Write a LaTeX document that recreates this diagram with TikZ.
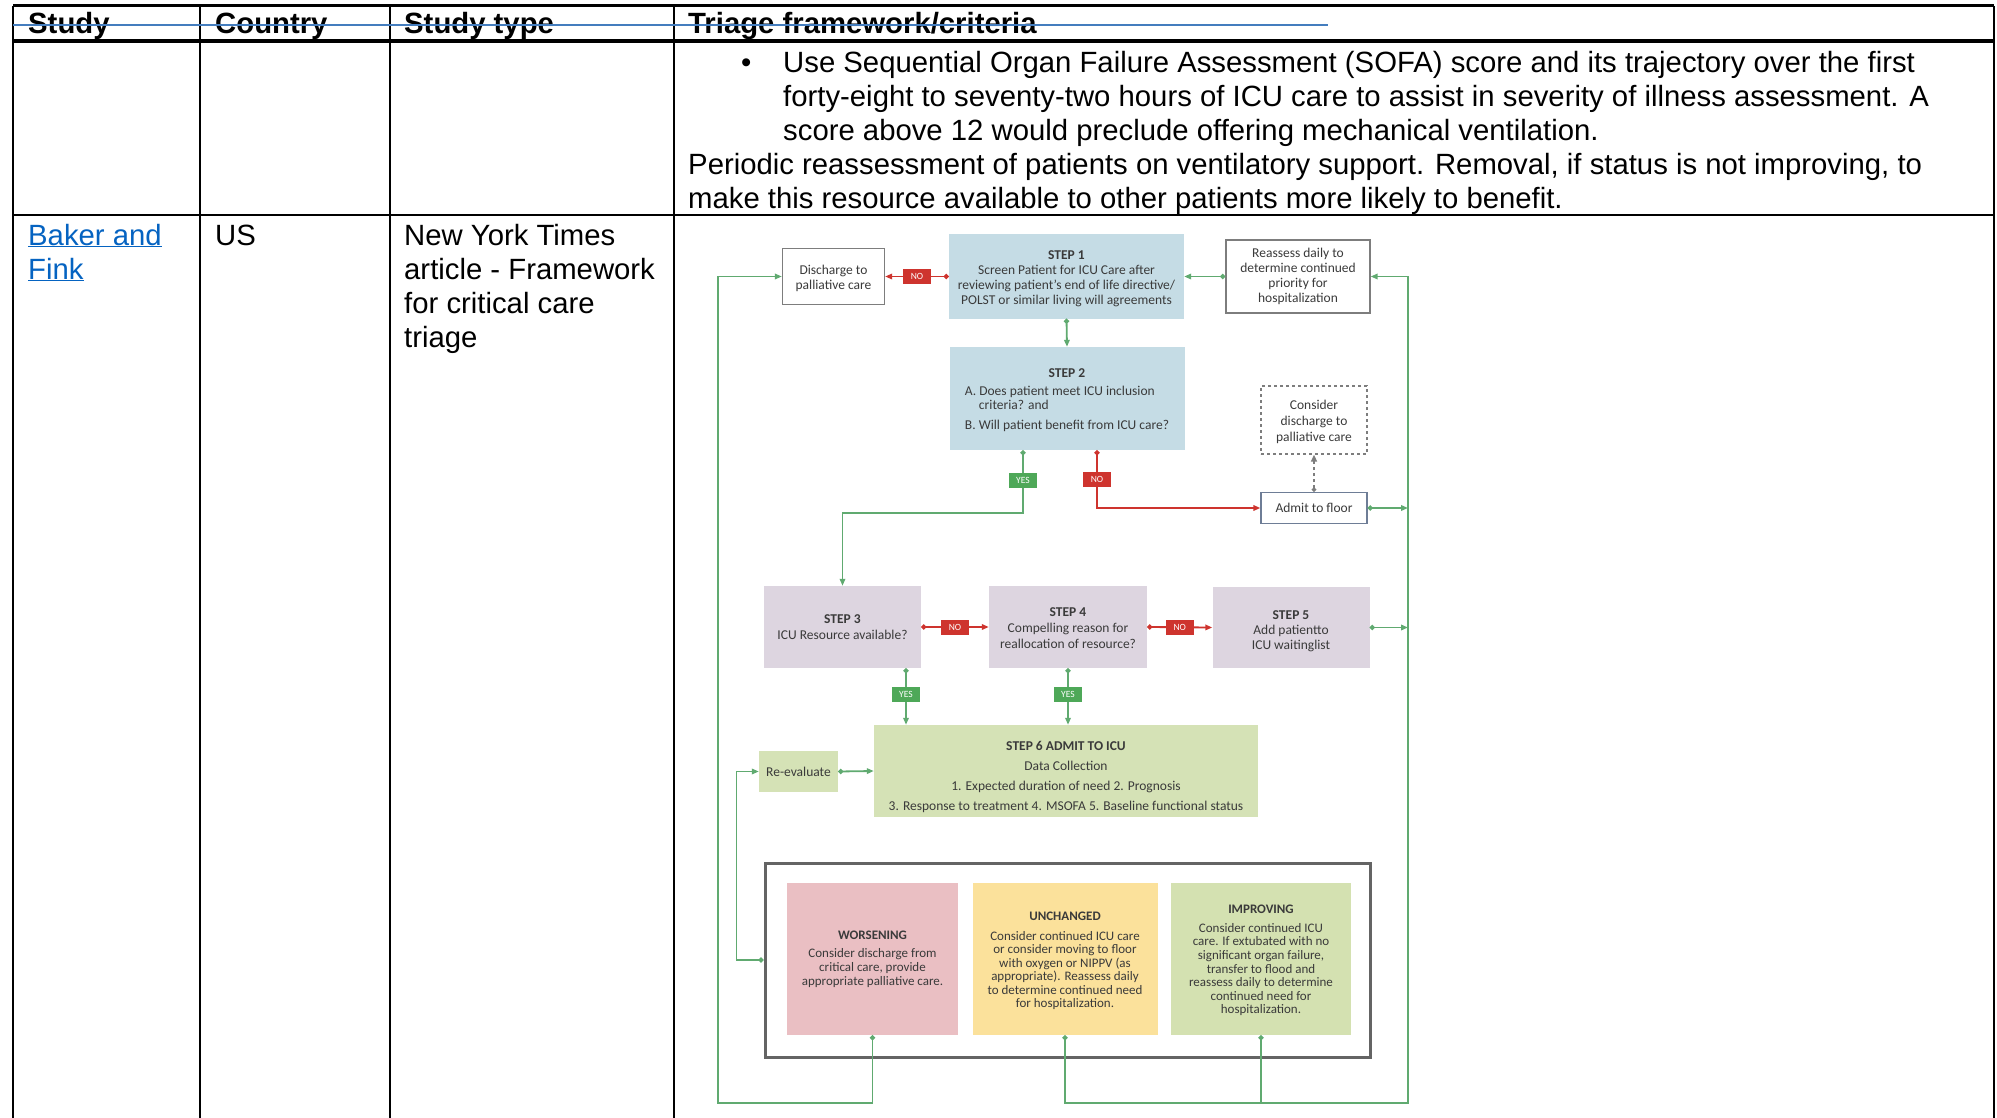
\documentclass[tikz,border=0pt]{standalone}
\usepackage{fontspec}
\setmainfont{Liberation Sans}
\newfontfamily\flowfont{Carlito}
\usetikzlibrary{arrows.meta,positioning,calc}

\definecolor{linkblue}{RGB}{5,99,193}
\definecolor{ruleblue}{RGB}{68,125,190}
\definecolor{stepblue}{RGB}{197,220,229}
\definecolor{steplilac}{RGB}{221,213,224}
\definecolor{stepgreen}{RGB}{213,226,182}
\definecolor{worsepink}{RGB}{234,191,195}
\definecolor{sameyellow}{RGB}{251,225,155}
\definecolor{bettergreen}{RGB}{212,225,177}
\definecolor{flowgreen}{RGB}{96,170,112}
\definecolor{yesgreen}{RGB}{78,168,88}
\definecolor{nored}{RGB}{206,52,46}
\definecolor{flowtext}{RGB}{58,58,58}
\definecolor{boxgray}{RGB}{125,125,125}

\begin{document}
\begin{tikzpicture}[x=1pt,y=-1pt,
  cell/.style={anchor=base west, inner sep=0pt, font=\fontsize{29.3}{33.8}\selectfont},
  head/.style={cell, font=\fontsize{29.3}{33.8}\selectfont\bfseries},
  flow/.style={inner sep=0pt, align=center, text=flowtext, font=\flowfont\fontsize{13.5}{14.5}\selectfont},
  stepbox/.style={flow, minimum width=#1},
  gline/.style={draw=flowgreen, line width=1.8pt, arrows={Circle[length=5pt]-Triangle[length=7pt,width=5.5pt]}},
  gdot/.style={draw=flowgreen, line width=1.8pt, arrows={Circle[length=5pt]-}},
  rline/.style={draw=nored, line width=1.8pt, arrows={Circle[length=5pt]-Triangle[length=7pt,width=5.5pt]}},
  dline/.style={draw=boxgray, line width=1.5pt, dashed, arrows={Circle[length=4.5pt]-Triangle[length=7pt,width=6pt]}},
  yeslbl/.style={fill=yesgreen, text=white, inner sep=0pt, minimum width=28pt, minimum height=15pt, font=\flowfont\fontsize{9.5}{10}\selectfont},
  nolbl/.style={yeslbl, fill=nored}]
  \useasboundingbox (0,0) rectangle (1997,1118);

  % table rules
  \draw[line width=3pt] (13,6) -- (1994,6);
  \draw[line width=3.2pt] (13,41) -- (1994,41);
  \draw[line width=2.8pt] (13,215) -- (1994,215);
  \draw[line width=2.6pt] (13,6) -- (13,1118);
  \draw[line width=2.6pt] (200,6) -- (200,1118);
  \draw[line width=2.6pt] (390,6) -- (390,1118);
  \draw[line width=2.6pt] (674,6) -- (674,1118);
  \draw[line width=2.6pt] (1994,6) -- (1994,1118);

  \node (h1) [head] at (28,34) {Study};
  \node (h2) [head] at (215,34) {Country};
  \node (h3) [head] at (404,34) {Study type};
  \node (h4) [head] at (688,34) {Triage framework/criteria};
  \draw[ruleblue, line width=1.8pt] (13,25) -- (1328,25);

  \node (bul) [cell] at (741,72.5) {•};
  \node (c1) [cell] at (783,72.5) {Use Sequential Organ Failure Assessment (SOFA) score and its trajectory over the first};
  \node (c2) [cell] at (783,106.5) {forty-eight to seventy-two hours of ICU care to assist in severity of illness assessment. A};
  \node (c3) [cell] at (783,140.5) {score above 12 would preclude offering mechanical ventilation.};
  \node (c4) [cell] at (688,174.5) {Periodic reassessment of patients on ventilatory support. Removal, if status is not improving, to};
  \node (c5) [cell] at (688,208) {make this resource available to other patients more likely to benefit.};

  \node (bk1) [cell, text=linkblue] at (28,245) {\underline{Baker and}};
  \node (bk2) [cell, text=linkblue] at (28,279) {\underline{Fink}};
  \node (us) [cell] at (215,245) {US};
  \node (ty1) [cell] at (404,245) {New York Times};
  \node (ty2) [cell] at (404,279) {article - Framework};
  \node (ty3) [cell] at (404,313) {for critical care};
  \node (ty4) [cell] at (404,347) {triage};

  % flowchart
  \node (s1) [stepbox=235pt, minimum height=84pt, fill=stepblue, font=\flowfont\fontsize{13.5}{14.8}\selectfont] at (1066.5,276.5)
    {\rule{0pt}{13.7pt}\textbf{STEP 1}\\Screen Patient for ICU Care after\\reviewing patient’s end of life directive/\\POLST or similar living will agreements};
  \node (dis) [stepbox=102pt, minimum height=56pt, draw=boxgray, line width=1.3pt, fill=white] at (833.5,276.5)
    {\rule{0pt}{13.5pt}Discharge to\\palliative care};
  \node (re) [stepbox=144pt, minimum height=73pt, draw=boxgray, line width=1.3pt, fill=white, font=\flowfont\fontsize{13.5}{15}\selectfont] at (1298,276.5)
    {Reassess daily to\\determine continued\\priority for\\hospitalization};
  \node (s2) [stepbox=235pt, minimum height=103pt, fill=stepblue] at (1067,398.5)
    {\begin{tabular}{@{}l@{}}\multicolumn{1}{@{}c@{}}{\rule{0pt}{14.2pt}\textbf{STEP 2}}\\[3pt]
     A. Does patient meet ICU inclusion\\\hspace*{14pt}criteria? and\\[5pt]
     B. Will patient benefit from ICU care?\end{tabular}};
  \node (cd) [stepbox=106pt, minimum height=68pt, draw=boxgray, line width=1.3pt, dashed, font=\flowfont\fontsize{13.5}{16}\selectfont] at (1314,420)
    {\rule{0pt}{12.5pt}Consider\\discharge to\\palliative care};
  \node (fl) [stepbox=106pt, minimum height=31pt, draw={rgb,255:red,110;green,125;blue,150}, line width=1.3pt, fill=white] at (1314,508)
    {Admit to floor};
  \node (s3) [stepbox=157pt, minimum height=82pt, fill=steplilac, font=\flowfont\fontsize{13.5}{16.5}\selectfont] at (842.5,627)
    {\textbf{STEP 3}\\ICU Resource available?};
  \node (s4) [stepbox=158pt, minimum height=82pt, fill=steplilac, font=\flowfont\fontsize{13.5}{16}\selectfont] at (1068,627)
    {\rule{0pt}{10.7pt}\textbf{STEP 4}\\Compelling reason for\\reallocation of resource?};
  \node (s5) [stepbox=157pt, minimum height=81pt, fill=steplilac, font=\flowfont\fontsize{13.5}{15.3}\selectfont] at (1291,627.5)
    {\rule{0pt}{16.7pt}\textbf{STEP 5}\\Add patientto\\ICU waitinglist};
  \node (s6) [stepbox=384pt, minimum height=92pt, fill=stepgreen, font=\flowfont\fontsize{13.5}{20}\selectfont] at (1066,771)
    {\rule{0pt}{20.7pt}\textbf{STEP 6 ADMIT TO ICU}\\Data Collection\\1. Expected duration of need 2. Prognosis\\3. Response to treatment 4. MSOFA 5. Baseline functional status};
  \node (rv) [stepbox=79pt, minimum height=41pt, fill=stepgreen] at (798.5,771.5) {Re-evaluate};

  \node (ob) [minimum width=605pt, minimum height=194pt, draw={rgb,255:red,100;green,100;blue,100}, line width=3pt, inner sep=0pt] at (1067.5,960) {};
  \node (wo) [stepbox=171pt, minimum height=152pt, fill=worsepink, font=\flowfont\fontsize{13}{13.8}\selectfont] at (872.5,959)
    {\textbf{WORSENING}\\[5pt]Consider discharge from\\critical care, provide\\appropriate palliative care.};
  \node (un) [stepbox=185pt, minimum height=152pt, fill=sameyellow, font=\flowfont\fontsize{13}{13.4}\selectfont] at (1065,959)
    {\rule{0pt}{12pt}\textbf{UNCHANGED}\\[6.5pt]Consider continued ICU care\\or consider moving to floor\\with oxygen or NIPPV (as\\appropriate). Reassess daily\\to determine continued need\\for hospitalization.};
  \node (im) [stepbox=180pt, minimum height=152pt, fill=bettergreen, font=\flowfont\fontsize{13}{13.6}\selectfont] at (1261,959)
    {\rule{0pt}{11pt}\textbf{IMPROVING}\\[5.5pt]Consider continued ICU\\care. If extubated with no\\significant organ failure,\\transfer to flood and\\reassess daily to determine\\continued need for\\hospitalization.};

  \coordinate (rb) at (1408,1103);
  \coordinate (lb) at (718,1103);

  \draw[rline] (s1.west) -- node[nolbl] {NO} (dis.east);
  \draw[gline] (re.west) -- (s1.east);
  \draw[gline] (s1.south) -- (s2.north);
  \draw[gline] ([xshift=-44pt]s2.south) -- node[yeslbl, pos=0.48] {YES} ++(0,63) -| (s3.north);
  \draw[rline] ([xshift=30pt]s2.south) |- node[nolbl, pos=0.25] {NO} (fl.west);
  \draw[dline] (fl.north) -- (cd.south);
  \draw[gline] (fl.east) -- (fl.east -| rb);
  \draw[rline] (s3.east) -- node[nolbl] {NO} (s4.west);
  \draw[rline] (s4.east) -- node[nolbl] {NO} (s5.west);
  \draw[gline] (s5.east) -- (s5.east -| rb);
  \draw[gline] ([xshift=63.5pt]s3.south) -- node[yeslbl, pos=0.47] {YES} ([xshift=63.5pt]s3.south |- s6.north);
  \draw[gline] (s4.south) -- node[yeslbl, pos=0.47] {YES} (s4.south |- s6.north);
  \draw[gline] (rv.east) -- (s6.west);
  \draw[gline] (ob.west) -- ++(-27,0) |- (rv.west);
  \draw[gline] (wo.south) |- (lb) |- (dis.west);
  \draw[gline] (un.south) |- (rb) |- (re.east);
  \draw[gdot] (im.south) -- (im.south |- rb);
\end{tikzpicture}
\end{document}
